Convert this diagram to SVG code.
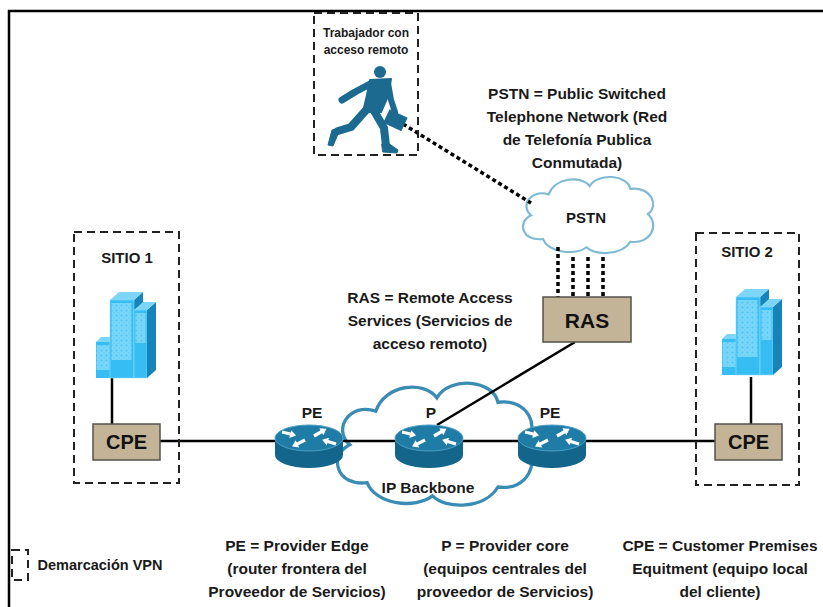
<svg xmlns="http://www.w3.org/2000/svg" xmlns:xlink="http://www.w3.org/1999/xlink" width="823" height="607" viewBox="0 0 823 607">
  <style>
    text { font-family: "Liberation Sans", Arial, sans-serif; font-weight: bold; fill: #1a1a1a; text-anchor: middle; }
    .lbl { font-size: 15.5px; }
    .small { font-size: 12px; }
    .box { fill: #c4b497; stroke: #55524c; stroke-width: 1.5; }
    .boxtxt { font-size: 20px; fill: #111; }
    .zone { fill: none; stroke: #222; stroke-width: 2; stroke-dasharray: 8 5; }
    .wire { stroke: #000; stroke-width: 2.5; fill: none; }
    .dots { stroke: #000; stroke-width: 3.5; stroke-dasharray: 4 3; fill: none; }
    .cloud { fill: #fff; stroke-width: 1.5; }
    .front { fill: #36bdf2; }
    .top { fill: #7dd6f8; }
    .side { fill: #1684b9; }
    .arw { fill: #fff; }
    .man { fill: #1c6a8f; stroke: #1c6a8f; stroke-linecap: round; stroke-linejoin: round; }
  </style>
  <defs>
    <pattern id="win" x="0.5" y="0.5" width="5" height="5" patternUnits="userSpaceOnUse">
      <rect x="1" y="1" width="3" height="3" fill="none" stroke="#b4ecff" stroke-width="1"/>
    </pattern>
    <path id="cloudShape" d="M20,48 C6,50 2,36 12,31 C4,24 12,12 24,16 C28,4 46,2 52,10 C58,0 78,2 80,12 C94,10 100,24 92,30 C100,38 94,52 80,50 C74,60 56,60 50,54 C42,60 24,58 20,48 Z"/>
    <path id="arrow" d="M0,-1.6 L8.5,-1.6 L8.5,-4 L14.5,0 L8.5,4 L8.5,1.6 L0,1.6 Z"/>
    <g id="router">
      <path d="M-34,0 L-34,17 A34 13 0 0 0 34,17 L34,0 Z" fill="#14658b"/>
      <ellipse cx="0" cy="0" rx="34" ry="13" fill="#1f7ca7" stroke="#4f9fc4" stroke-width="1"/>
      <use href="#arrow" class="arw" transform="translate(-27,-6) rotate(14)"/>
      <use href="#arrow" class="arw" transform="translate(-4,2) rotate(153)"/>
      <use href="#arrow" class="arw" transform="translate(5,-2) rotate(-30)"/>
      <use href="#arrow" class="arw" transform="translate(27,6) rotate(197)"/>
    </g>
    <g id="building">
      <rect class="front" x="0" y="52" width="14" height="36"/>
      <polygon class="top" points="0,52 14,52 19,47 5,47"/>
      <rect x="0.5" y="55" width="13" height="25" fill="url(#win)"/>
      <polygon class="side" points="38,10 47,2 47,86 38,88"/>
      <rect class="front" x="14" y="10" width="24" height="78" stroke="#8fdcff" stroke-width="0.6"/>
      <polygon class="top" points="14,10 38,10 47,2 23,2"/>
      <rect x="15.5" y="13" width="20" height="57" fill="url(#win)"/>
      <rect class="front" x="38" y="20" width="13" height="68" stroke="#8fdcff" stroke-width="0.6"/>
      <polygon class="side" points="51,20 60,12 60,80 51,88"/>
      <polygon class="top" points="38,20 51,20 60,12 47,12"/>
      <rect x="39.5" y="23" width="10" height="30" fill="url(#win)"/>
    </g>
  </defs>

  <!-- outer frame -->
  <rect x="9" y="11" width="840" height="620" fill="none" stroke="#000" stroke-width="2.5"/>

  <!-- clouds -->
  <g id="pstn-cloud">
    <use href="#cloudShape" class="cloud" stroke="#7fb9d6" transform="translate(513.6,172.2) scale(1.46,1.39)" style="vector-effect:non-scaling-stroke"/>
    <text x="586" y="223" style="font-size:15px">PSTN</text>
  </g>
  <g id="ip-backbone">
    <use href="#cloudShape" class="cloud" stroke="#3a8cb5" transform="translate(323.5,375.5) scale(2.18,2.23)" style="vector-effect:non-scaling-stroke"/>
    <text x="428" y="493" class="lbl">IP Backbone</text>
  </g>

  <!-- connectors -->
  <g id="connectors">
    <line class="wire" x1="160" y1="441" x2="715" y2="441"/>
    <line class="wire" x1="112" y1="378" x2="112" y2="424"/>
    <line class="wire" x1="751" y1="377" x2="751" y2="424"/>
    <line class="wire" x1="575" y1="342" x2="437" y2="425"/>
    <line class="dots" x1="403" y1="124" x2="531" y2="203"/>
    <line class="dots" x1="558" y1="247" x2="558" y2="297"/>
    <line class="dots" x1="573" y1="257" x2="573" y2="297"/>
    <line class="dots" x1="588" y1="257" x2="588" y2="297"/>
    <line class="dots" x1="603" y1="257" x2="603" y2="297"/>
  </g>

  <!-- remote worker -->
  <g id="remote-worker">
    <rect class="zone" x="314" y="13" width="104" height="142"/>
    <text x="366" y="37" class="small">Trabajador con</text>
    <text x="366" y="54" class="small">acceso remoto</text>
    <g class="man">
      <circle cx="380" cy="72" r="6" stroke="none"/>
      <polygon points="370,80 391,79 388,96 381,112 363,112 367,95" stroke-width="2"/>
      <polyline points="372,83 355,92 342,100" fill="none" stroke-width="7"/>
      <polyline points="388,83 391,100 395,112" fill="none" stroke-width="6"/>
      <polyline points="367,109 351,127 338,131" fill="none" stroke-width="8"/>
      <polygon points="339,128 332,130 328,145 333,146 338,134" stroke-width="1"/>
      <polyline points="373,109 384,128 386,146" fill="none" stroke-width="8"/>
      <polygon points="382,144 388,143 398,150 397,153 383,152" stroke-width="1"/>
      <rect x="386" y="113" width="19" height="14" transform="rotate(25 395 120)" stroke-width="1"/>
    </g>
  </g>

  <!-- PSTN description -->
  <g id="pstn-note">
    <text x="577" y="99" class="lbl">PSTN = Public Switched</text>
    <text x="577" y="122" class="lbl">Telephone Network (Red</text>
    <text x="577" y="145" class="lbl">de Telefonía Publica</text>
    <text x="577" y="168" class="lbl">Conmutada)</text>
  </g>

  <!-- RAS -->
  <g id="ras">
    <rect class="box" x="543" y="297" width="88" height="45"/>
    <text x="587" y="328" style="font-size:21px;fill:#111">RAS</text>
  </g>
  <g id="ras-note">
    <text x="430" y="303" class="lbl">RAS = Remote Access</text>
    <text x="430" y="326" class="lbl">Services (Servicios de</text>
    <text x="430" y="349" class="lbl">acceso remoto)</text>
  </g>

  <!-- site 1 -->
  <g id="sitio1">
    <rect class="zone" x="74" y="232" width="105" height="251"/>
    <text x="127" y="263" style="font-size:15px">SITIO 1</text>
    <use href="#building" transform="translate(96,290)"/>
  </g>
  <g id="cpe1">
    <rect class="box" x="93" y="424" width="67" height="36"/>
    <text x="126.5" y="449" class="boxtxt">CPE</text>
  </g>

  <!-- site 2 -->
  <g id="sitio2">
    <rect class="zone" x="696" y="233" width="103" height="252"/>
    <text x="747" y="257" style="font-size:15px">SITIO 2</text>
    <use href="#building" transform="translate(722,287)"/>
  </g>
  <g id="cpe2">
    <rect class="box" x="715" y="424" width="67" height="36"/>
    <text x="748.5" y="449" class="boxtxt">CPE</text>
  </g>

  <!-- provider routers -->
  <g id="pe-left">
    <text x="312" y="418" class="lbl">PE</text>
    <use href="#router" transform="translate(309,438)"/>
  </g>
  <g id="p-core">
    <text x="431" y="418" class="lbl">P</text>
    <use href="#router" transform="translate(429,438)"/>
  </g>
  <g id="pe-right">
    <text x="550" y="418" class="lbl">PE</text>
    <use href="#router" transform="translate(552,438)"/>
  </g>

  <!-- legend -->
  <g id="legend">
    <rect class="zone" x="12" y="550" width="16" height="30" stroke-dasharray="6 5"/>
    <text x="100" y="570" style="font-size:14.5px">Demarcación VPN</text>
    <text x="297" y="551" class="lbl">PE = Provider Edge</text>
    <text x="297" y="574" class="lbl">(router frontera del</text>
    <text x="297" y="597" class="lbl">Proveedor de Servicios)</text>
    <text x="505" y="551" class="lbl">P = Provider core</text>
    <text x="505" y="574" class="lbl">(equipos centrales del</text>
    <text x="505" y="597" class="lbl">proveedor de Servicios)</text>
    <text x="720" y="551" class="lbl">CPE = Customer Premises</text>
    <text x="720" y="574" class="lbl">Equitment (equipo local</text>
    <text x="720" y="597" class="lbl">del cliente)</text>
  </g>
</svg>
